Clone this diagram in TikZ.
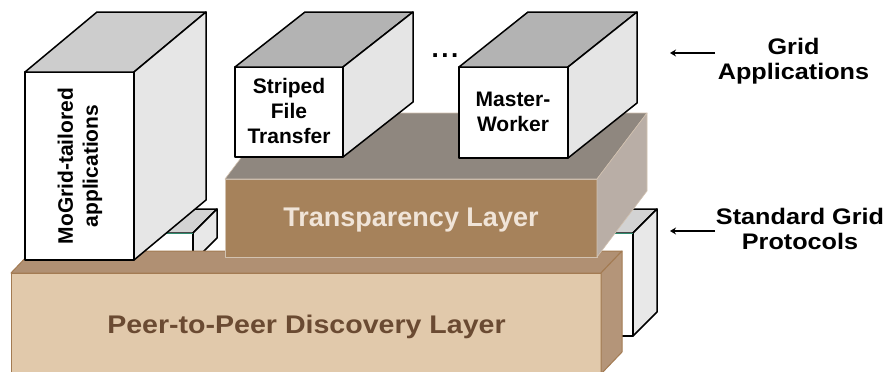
\documentclass[tikz,border=0pt]{standalone}
\usepackage{fontspec}
\setmainfont{Liberation Sans}
\newfontfamily\widesans{Liberation Sans}[FakeStretch=1.12]
\usetikzlibrary{arrows.meta}

% face colours, one set per kind of block: <style>front / <style>top / <style>side
\definecolor{appboxfront}{HTML}{FFFFFF}
\definecolor{appboxtop}{HTML}{B3B3B3}
\definecolor{appboxside}{HTML}{E5E5E5}
\definecolor{tallboxfront}{HTML}{FFFFFF}
\definecolor{tallboxtop}{HTML}{CDCDCD}
\definecolor{tallboxside}{HTML}{E6E6E6}
\definecolor{stubboxfront}{HTML}{FFFFFF}
\definecolor{stubboxtop}{HTML}{D3D3D3}
\definecolor{stubboxside}{HTML}{E8E8E8}
\definecolor{translayerfront}{HTML}{A6825B}
\definecolor{translayertop}{HTML}{8F877F}
\definecolor{translayerside}{HTML}{B9AEA6}
\definecolor{transedge}{HTML}{D2C2B0}
\definecolor{transtext}{HTML}{F0E4D8}
\definecolor{peerlayerfront}{HTML}{E1C9AB}
\definecolor{peerlayertop}{HTML}{B09073}
\definecolor{peerlayerside}{HTML}{B49579}
\definecolor{peeredge}{HTML}{A37B52}
\definecolor{peertext}{HTML}{6A4A32}
\definecolor{stubgreen}{HTML}{2E8B6E}

% cuboid: style, front face corners (x1,y1) (x2,y2), depth offset (dx,dy)
\newcommand{\cuboidbox}[7]{%
  \filldraw[#1,fill=#1front] (#2,#3) rectangle (#4,#5);
  \filldraw[#1,fill=#1top] (#2,#3) -- ++(#6,#7) -- ({#4+#6},{#3+#7}) -- (#4,#3) -- cycle;
  \filldraw[#1,fill=#1side] (#4,#3) -- ({#4+#6},{#3+#7}) -- ({#4+#6},{#5+#7}) -- (#4,#5) -- cycle;
}

\tikzset{
  appbox/.style={draw=black, line width=1.5pt, line join=round},
  tallbox/.style={draw=black, line width=1.5pt, line join=round},
  stubbox/.style={draw=black, line width=1.5pt, line join=round},
  translayer/.style={draw=transedge, line width=0.6pt, line join=round},
  peerlayer/.style={draw=peeredge, line width=1pt, line join=round},
  stubedge/.style={draw=stubgreen, line width=1pt},
  boxlabel/.style={font=\bfseries\fontsize{21}{25}\selectfont, align=center, inner sep=0pt},
  sidelabel/.style={font=\widesans\bfseries\fontsize{22.5}{24.5}\selectfont, align=center, inner sep=0pt},
  sidearrow/.style={draw=black, line width=1.6pt, -{Stealth[length=6pt,width=7pt]}},
}

\begin{document}
\begin{tikzpicture}[x=1pt, y=-1pt]
  \useasboundingbox (0,0) rectangle (889,372);
  \fill[white] (0,0) rectangle (889,372);

  % protocol stubs standing behind the layers
  \cuboidbox{stubbox}{120}{233}{193}{262}{24}{-24}
  \draw[stubedge] (120,233) -- (193,233);
  \cuboidbox{stubbox}{600}{233}{633}{336}{24}{-24}
  \draw[stubedge] (600,233) -- (633,233);

  % bottom layer
  \cuboidbox{peerlayer}{11}{273}{601}{374}{21}{-22}

  % tall application block on the left
  \cuboidbox{tallbox}{25}{72}{134}{260}{72}{-60}

  % middle layer
  \cuboidbox{translayer}{225}{179}{597}{257}{50}{-66}

  % application blocks on the middle layer
  \cuboidbox{appbox}{235}{67}{343}{157}{70}{-55}
  \cuboidbox{appbox}{459}{67}{568}{158}{69}{-55}

  % block texts
  \node[boxlabel, rotate=90] (mogridtxt) at (80,166) {MoGrid-tailored\\applications};
  \node[boxlabel] (stripedtxt) at (289,111) {Striped\\File\\Transfer};
  \node[boxlabel] (mastertxt) at (513,112) {Master-\\Worker};
  \node[boxlabel, font=\bfseries\fontsize{26}{28}\selectfont, anchor=base] (dots) at (445,57)
    {.\hspace{2.5pt}.\hspace{2.5pt}.};
  \node[font=\bfseries\fontsize{27}{30}\selectfont, text=transtext, anchor=base, inner sep=0pt]
    (transtxt) at (411,226) {Transparency Layer};
  \node[font=\widesans\bfseries\fontsize{25.5}{28}\selectfont, text=peertext, anchor=base, inner sep=0pt]
    (peertxt) at (306.5,333) {Peer-to-Peer Discovery Layer};

  % side labels with their pointers
  \node[sidelabel] (gridlbl) at (793.5,61) {Grid\\Applications};
  \node[sidelabel] (protolbl) at (800,229) {Standard Grid\\Protocols};
  \coordinate (gridtail) at (715,53);
  \coordinate (gridtip) at (670,53);
  \coordinate (prototail) at (715,231);
  \coordinate (prototip) at (670,231);
  \draw[sidearrow] (gridtail) -- (gridtip);
  \draw[sidearrow] (prototail) -- (prototip);
\end{tikzpicture}
\end{document}
